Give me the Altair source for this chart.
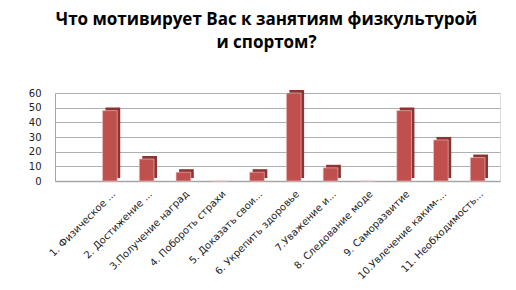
import altair as alt
import pandas as pd

categories = [
    "1. Физическое ...",
    "2. Достижение ...",
    "3.Получение наград",
    "4. Побороть страхи",
    "5. Доказать свои...",
    "6. Укрепить здоровье",
    "7.Уважение и...",
    "8. Следование моде",
    "9. Саморазвитие",
    "10.Увлечение каким-...",
    "11. Необходимость...",
]
values = [48, 15, 6, 0, 6, 60, 9, 0, 48, 28, 16]
y_ticks = [0, 10, 20, 30, 40, 50, 60]

df = pd.DataFrame({"cat": categories, "val": values})

xenc = alt.X(
    "cat:N",
    sort=None,
    title=None,
    scale=alt.Scale(paddingInner=0.6, paddingOuter=0.85, align=0.76),
    axis=alt.Axis(
        labelAngle=-45,
        labelAlign="right",
        labelBaseline="middle",
        labelFont="DejaVu Sans",
        labelFontSize=10,
        labelColor="#222222",
        labelPadding=11,
        labelOffset=4,
        ticks=False,
        domainColor="#A6A6A6",
        domainWidth=1.5,
        labelLimit=200,
    ),
)
yenc = alt.Y(
    "val:Q",
    title=None,
    scale=alt.Scale(domain=[0, 60], nice=False),
    axis=alt.Axis(
        values=y_ticks,
        labelFont="DejaVu Sans",
        labelFontSize=10,
        labelColor="#222222",
        labelPadding=14,
        ticks=False,
        domainColor="#A6A6A6",
        gridColor="#B0B0B0",
        gridWidth=1,
    ),
)

back = alt.Chart(df).mark_bar(
    color="#8C3432", xOffset=3, x2Offset=3, yOffset=-3, y2Offset=-3
).encode(x=xenc, y=yenc)
front = alt.Chart(df).mark_bar(
    color="#C0504D", stroke="#F0C8C6", strokeWidth=0.6
).encode(x=xenc, y=yenc)

chart = (
    alt.layer(back, front)
    .properties(
        width=445,
        height=88,
        autosize=alt.AutoSizeParams(type="none"),
        padding={"left": 55, "top": 93, "right": 16, "bottom": 109},
        title=alt.TitleParams(
            ["Что мотивирует Вас к занятиям физкультурой", "и спортом?"],
            font="Open Sans",
            fontSize=17,
            fontWeight="bold",
            color="#000000",
            anchor="middle",
            dx=-11,
            offset=36,
            lineHeight=23,
        ),
    )
    .configure_view(stroke=None)
    .configure(background="white")
)

chart.save("out.html", embed_options={"renderer": "svg", "actions": False})
